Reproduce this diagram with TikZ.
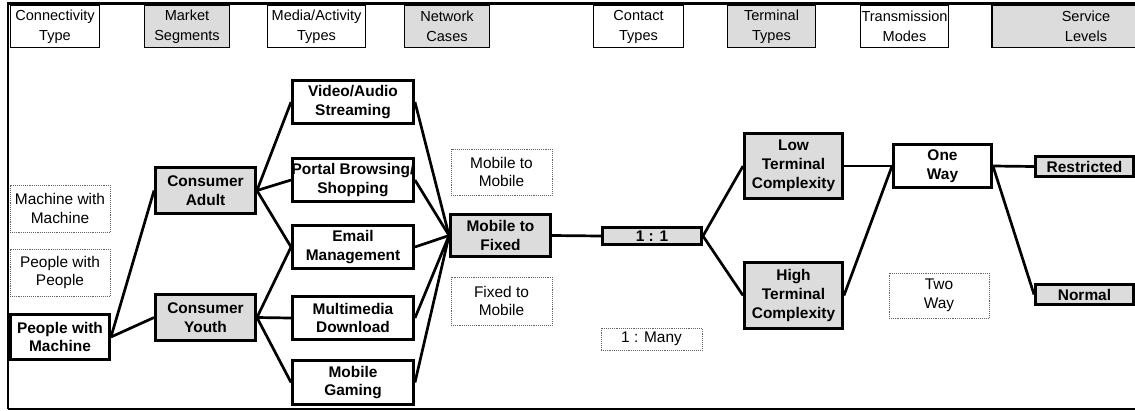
\documentclass[tikz,border=0pt]{standalone}
\usepackage{fontspec}
\setmainfont{Liberation Sans}
\definecolor{cellgray}{RGB}{220,220,220}
\definecolor{optgray}{RGB}{100,100,100}
\newcommand{\bodyfont}{\fontsize{15.5}{19}\selectfont}
\newcommand{\hdrfont}{\fontsize{14.6}{20}\selectfont}
\tikzset{
  sz/.style 2 args={minimum width=#1bp, minimum height=#2bp},
  hdr/.style={draw, line width=1.1bp, inner sep=0pt, align=center, font=\hdrfont},
  keybox/.style={draw, line width=2.9bp, inner sep=0pt, align=center, font=\bodyfont\bfseries},
  shaded/.style={fill=cellgray},
  optbox/.style={draw=optgray, densely dotted, line width=0.9bp, inner sep=0pt, align=center, font=\bodyfont},
  link/.style={line width=2.7bp},
}
\begin{document}
\begin{tikzpicture}[x=1bp, y=-1bp]
\useasboundingbox (0,0) rectangle (1135,410);
\clip (0,0) rectangle (1135,410);

% outer frame
\draw[line width=3bp] (8,3) -- (1135,3);
\draw[line width=2.2bp] (8,2) -- (8,409);
\draw[line width=1.8bp] (8,409) -- (1135,409);

% column headers
\node[hdr, sz={89}{42}]          (hConn)    at (55,26.5)    {Connectivity\\Type};
\node[hdr, shaded, sz={85}{42}]  (hMkt)     at (187,26.5)   {Market\\Segments};
\node[hdr, sz={98}{42}]          (hMedia)   at (316.5,26.5) {Media/Activity\\Types};
\node[hdr, shaded, sz={85}{42}]  (hNet)     at (447,26.5)   {Network\\Cases};
\node[hdr, sz={90}{42}]          (hContact) at (638.5,26.5) {Contact\\Types};
\node[hdr, shaded, sz={88}{42}]  (hTerm)    at (771.5,26.5) {Terminal\\Types};
\node[hdr, sz={88}{42}]          (hTrans)   at (904.5,26.5) {Transmission\\Modes};
\node[hdr, shaded, sz={188}{42}] (hServ)    at (1086,26.5)  {Service\\Levels};

% connectivity type
\node[optbox, sz={100}{47}] (mm) at (60,208.5) {Machine with\\Machine};
\node[optbox, sz={100}{47}] (pp) at (60,272.5) {People with\\People};
\node[keybox, sz={99}{45}]  (pm) at (60,337)   {People with\\Machine};

% market segments
\node[keybox, shaded, sz={100}{46}] (ca) at (205.5,190.5) {Consumer\\Adult};
\node[keybox, shaded, sz={100}{46}] (cy) at (205.5,317.5) {Consumer\\Youth};

% media / activity types
\node[keybox, sz={121}{43}] (va) at (353,102)   {Video/Audio\\Streaming};
\node[keybox, sz={121}{43}] (pb) at (353,180)   {\makebox[121bp][c]{Portal Browsing/}\\Shopping};
\node[keybox, sz={121}{43}] (em) at (353,247)   {Email\\Management};
\node[keybox, sz={121}{43}] (md) at (353,318)   {Multimedia\\Download};
\node[keybox, sz={121}{44}] (mg) at (353,382.5) {Mobile\\Gaming};

% network cases
\node[optbox, sz={101}{46}]         (mmob) at (501.5,172)   {Mobile to\\Mobile};
\node[keybox, shaded, sz={100}{42}] (mf)   at (500.5,235.5) {Mobile to\\Fixed};
\node[optbox, sz={101}{48}]         (fm)   at (501.5,301)   {Fixed to\\Mobile};

% contact types
\node[keybox, shaded, sz={99}{17.5}] (o1) at (652,236)   {1 : 1};
\node[optbox, sz={101}{22}]          (om) at (651.5,339) {1 : Many};

% terminal types
\node[keybox, shaded, sz={98}{65}] (lt) at (793.5,166)   {Low\\Terminal\\Complexity};
\node[keybox, shaded, sz={98}{66}] (ht) at (793.5,295.5) {High\\Terminal\\Complexity};

% transmission modes
\node[keybox, sz={98}{43}]  (ow) at (942.5,166)   {One\\Way};
\node[optbox, sz={100}{45}] (tw) at (939,295.5)   {Two\\Way};

% service levels
\node[keybox, shaded, sz={98}{20.5}] (rs) at (1084.5,166.5) {Restricted};
\node[keybox, shaded, sz={98}{20.5}] (nm) at (1084.5,294.5) {Normal};

% connections
\draw[link] (pm.east) -- (ca.west);
\draw[link] (pm.east) -- (cy.west);
\draw[link] (ca.east) -- (va.west);
\draw[link] (ca.east) -- (pb.west);
\draw[link] (ca.east) -- (em.west);
\draw[link] (cy.east) -- (em.west);
\draw[link] (cy.east) -- (md.west);
\draw[link] (cy.east) -- (mg.west);
\foreach \m in {va,pb,em,md,mg} \draw[link] (\m.east) -- (mf.west);
\draw[link] (mf.east) -- (o1.west);
\draw[link] (o1.east) -- (lt.west);
\draw[link] (o1.east) -- (ht.west);
\draw[link] (lt.east) -- (ow.west);
\draw[link] (ht.east) -- (ow.west);
\draw[link] (ow.east) -- (rs.west);
\draw[link] (ow.east) -- (nm.west);
\end{tikzpicture}
\end{document}
